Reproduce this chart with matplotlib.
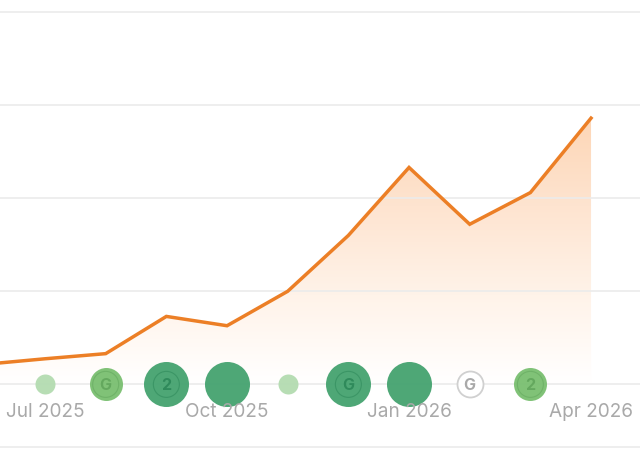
import numpy as np
import matplotlib
matplotlib.use("Agg")
import matplotlib.pyplot as plt
from matplotlib.colors import LinearSegmentedColormap

plt.rcParams['font.family'] = ['Inter', 'DejaVu Sans']

# months counted from Jul 2025
months = [-1, 0, 1, 2, 3, 4, 5, 6, 7, 8, 9]
traffic = [21.5, 27.5, 33, 73, 63, 100, 160, 233, 172, 206, 286]
y_grid = [0, 100, 200, 300, 400]
tick_months = [0, 3, 6, 9]
tick_labels = ["Jul 2025", "Oct 2025", "Jan 2026", "Apr 2026"]

# update markers along the zero line
marker_months = [0, 1, 2, 3, 4, 5, 6, 7, 8]
marker_sizes = [20, 33, 45, 45, 20, 45, 45, 26, 33]
marker_colors = ["#b5dcb2", "#7cc073", "#48a472", "#48a472", "#b5dcb2",
                 "#48a472", "#48a472", "#ffffff", "#7cc073"]
marker_text = ["", "G", "2", "", "", "G", "", "G", "2"]
text_colors = ["", "#64a85e", "#2f8a5b", "", "", "#2f8a5b", "", "#a9a9a9", "#64a85e"]

fig = plt.figure(figsize=(6.4, 4.5), dpi=100)
ax = fig.add_axes([0, 0, 1, 1])
ax.set_xlim(-0.742, 9.807)
ax.set_ylim(-70.5, 412.9)
ax.axis("off")

for g in y_grid:
    ax.axhline(g, color="#ebebeb", lw=1.2, zorder=3)
ax.axhline(-67.7, color="#ebebeb", lw=1.2, zorder=3)

# gradient under the line
cmap = LinearSegmentedColormap.from_list("fade", ["#fdd6b6", "#fee4d0", "#fff3e9", "#ffffff"])
grad = np.linspace(0, 1, 256).reshape(-1, 1)
im = ax.imshow(grad, cmap=cmap, aspect="auto", zorder=2,
               extent=[months[0], months[-1], 0, max(traffic)], origin="upper")
poly = ax.fill_between(months, traffic, 0, color="none", lw=0)
im.set_clip_path(poly.get_paths()[0], transform=ax.transData)
ax.set_xlim(-0.742, 9.807)
ax.set_ylim(-70.5, 412.9)

ax.plot(months, traffic, color="#ec7f26", lw=2.5, zorder=4, solid_joinstyle="miter")

for m, d, c, t, tc in zip(marker_months, marker_sizes, marker_colors, marker_text, text_colors):
    size = (d * 0.72) ** 2
    if c == "#ffffff":
        ax.scatter(m, 0, s=size, facecolor=c, edgecolor="#d0d0d0", lw=1.3, zorder=5)
    else:
        ax.scatter(m, 0, s=size, color=c, lw=0, zorder=5, alpha=0.97)
        if t:
            ax.scatter(m, 0, s=(26 * 0.72) ** 2, facecolor="none", edgecolor=tc, lw=0.8, alpha=0.6, zorder=6)
    if t:
        ax.text(m, 0, t, color=tc, fontsize=11.5, fontweight="bold", ha="center",
                va="center_baseline", zorder=7)

for m, lab in zip(tick_months, tick_labels):
    ax.text(m, -29.5, lab, color="#a9a9a9", fontsize=13.7, ha="center", va="center", zorder=8)

fig.savefig("out.png", dpi=100)
